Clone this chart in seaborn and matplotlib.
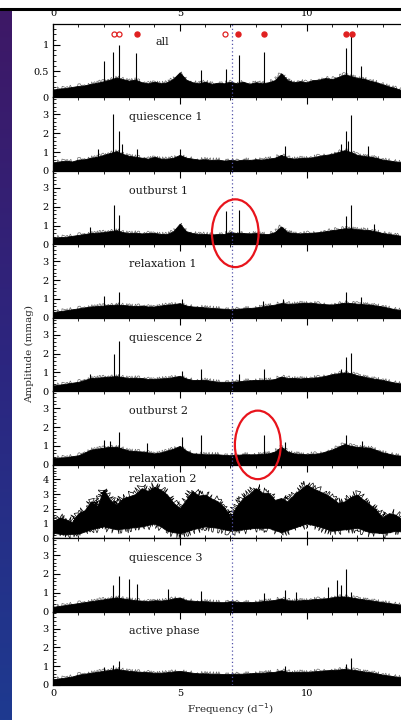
import numpy as np
import pandas as pd
import matplotlib
matplotlib.use("Agg")
import matplotlib.pyplot as plt
import seaborn as sns
from matplotlib.patches import Ellipse
from matplotlib.colors import LinearSegmentedColormap
from matplotlib.ticker import MultipleLocator

# ---------------- data ----------------
freq_grid = np.arange(0, 14.001, 0.25)

panel_names = ["all", "quiescence 1", "outburst 1", "relaxation 1", "quiescence 2",
               "outburst 2", "relaxation 2", "quiescence 3", "active phase"]
panel_ymax = [1.4, 3.9, 3.9, 3.9, 3.9, 3.9, 5.0, 3.9, 3.9]

env_all = [0.15,0.17,0.18,0.2,0.22,0.23,0.26,0.28,0.31,0.34,0.38,0.35,0.32,0.34,0.29,0.27,
           0.3,0.27,0.29,0.36,0.48,0.34,0.29,0.27,0.3,0.26,0.28,0.27,0.3,0.27,0.3,0.26,
           0.29,0.27,0.29,0.33,0.46,0.33,0.29,0.31,0.29,0.33,0.34,0.37,0.35,0.39,0.44,0.41,
           0.37,0.36,0.32,0.29,0.25,0.21,0.18,0.14,0.12]
env_q1 = [0.45,0.5,0.55,0.5,0.6,0.62,0.7,0.75,0.85,0.95,1.05,0.9,0.8,0.75,0.7,0.65,
          0.75,0.65,0.65,0.7,0.85,0.7,0.65,0.6,0.62,0.58,0.6,0.55,0.58,0.55,0.6,0.58,
          0.62,0.6,0.65,0.7,0.85,0.7,0.65,0.68,0.7,0.72,0.8,0.85,0.9,1.0,1.1,1.0,
          0.85,0.8,0.75,0.7,0.6,0.55,0.5,0.45,0.42]
env_o1 = [0.35,0.38,0.4,0.45,0.5,0.55,0.6,0.62,0.65,0.7,0.75,0.65,0.6,0.62,0.58,0.6,
          0.6,0.55,0.55,0.7,1.1,0.7,0.6,0.55,0.55,0.52,0.55,0.55,0.65,0.6,0.6,0.58,
          0.6,0.55,0.55,0.65,0.95,0.65,0.6,0.58,0.6,0.62,0.65,0.7,0.75,0.8,0.85,0.85,
          0.8,0.78,0.75,0.68,0.6,0.55,0.5,0.45,0.4]
env_r1 = [0.3,0.35,0.4,0.45,0.5,0.55,0.6,0.62,0.65,0.68,0.7,0.68,0.65,0.62,0.65,0.6,
          0.6,0.65,0.7,0.72,0.78,0.65,0.6,0.58,0.55,0.52,0.5,0.48,0.45,0.48,0.5,0.52,
          0.55,0.6,0.65,0.7,0.78,0.75,0.75,0.78,0.8,0.78,0.75,0.72,0.7,0.75,0.8,0.78,
          0.75,0.72,0.7,0.65,0.6,0.52,0.45,0.4,0.35]
env_q2 = [0.3,0.35,0.4,0.45,0.5,0.6,0.7,0.72,0.75,0.78,0.8,0.75,0.7,0.72,0.7,0.65,
          0.65,0.68,0.7,0.75,0.82,0.68,0.6,0.6,0.6,0.55,0.5,0.5,0.5,0.52,0.55,0.58,
          0.6,0.6,0.6,0.65,0.78,0.7,0.7,0.68,0.7,0.72,0.75,0.82,0.9,0.95,1.0,0.95,
          0.85,0.78,0.7,0.65,0.6,0.52,0.45,0.4,0.35]
env_o2 = [0.35,0.38,0.4,0.45,0.5,0.65,0.8,0.85,0.9,0.95,0.95,0.85,0.75,0.72,0.7,0.65,
          0.6,0.65,0.75,0.85,1.0,0.75,0.6,0.58,0.55,0.55,0.55,0.52,0.5,0.52,0.55,0.55,
          0.55,0.58,0.6,0.7,0.95,0.7,0.6,0.58,0.55,0.58,0.6,0.7,0.8,0.95,1.1,1.0,
          0.95,0.92,0.9,0.78,0.65,0.58,0.5,0.48,0.45]
r2_upper = [1.15,1.4,1.28,1.1,1.7,1.9,2.5,2.2,3.3,2.6,2.28,2.7,2.85,3.0,3.4,3.2,
            3.5,3.3,2.96,2.4,2.05,2.6,3.2,2.9,2.96,2.7,2.5,2.1,1.4,2.2,2.73,3.0,
            3.4,3.1,3.07,2.6,2.73,2.5,2.96,3.3,3.64,3.4,3.2,3.0,2.73,2.4,2.5,2.8,
            2.96,2.6,2.28,1.9,1.4,1.7,1.6,1.3,1.3]
r2_lower = [0.36,0.3,0.25,0.3,0.3,0.45,0.6,0.7,0.8,0.7,0.6,0.65,0.7,0.75,0.8,0.9,
            1.0,0.8,0.5,0.4,0.35,0.45,0.6,0.7,0.8,0.75,0.7,0.6,0.5,0.55,0.6,0.65,
            0.7,0.7,0.7,0.55,0.4,0.55,0.7,0.85,1.0,0.9,0.8,0.65,0.5,0.55,0.6,0.65,
            0.7,0.55,0.4,0.38,0.35,0.4,0.5,0.45,0.4]
env_q3 = [0.25,0.3,0.35,0.4,0.45,0.5,0.55,0.6,0.65,0.7,0.75,0.7,0.65,0.6,0.58,0.55,
          0.6,0.58,0.62,0.7,0.75,0.6,0.58,0.55,0.55,0.52,0.5,0.5,0.55,0.52,0.5,0.5,
          0.52,0.55,0.58,0.62,0.7,0.6,0.58,0.6,0.62,0.65,0.68,0.7,0.75,0.8,0.8,0.75,
          0.7,0.65,0.6,0.55,0.5,0.45,0.4,0.35,0.3]
env_ap = [0.3,0.35,0.4,0.45,0.55,0.6,0.65,0.7,0.75,0.8,0.85,0.8,0.75,0.72,0.7,0.68,
          0.65,0.65,0.68,0.72,0.75,0.7,0.65,0.62,0.62,0.6,0.6,0.58,0.58,0.6,0.6,0.62,
          0.65,0.65,0.68,0.7,0.78,0.7,0.68,0.7,0.7,0.72,0.75,0.78,0.8,0.82,0.85,0.82,
          0.78,0.72,0.68,0.62,0.55,0.5,0.45,0.4,0.35]

spk_all_f = [2.01, 2.38, 2.6, 3.29, 5.85, 6.81, 7.32, 8.32, 11.55, 11.77, 12.15]
spk_all_a = [0.70, 0.87, 1.0, 0.84, 0.52, 0.55, 0.81, 0.87, 0.94, 1.19, 0.6]
spk_q1_f = [1.78, 2.38, 2.6, 2.74, 3.3, 5.0, 9.15, 11.36, 11.56, 11.64, 11.77, 12.44]
spk_q1_a = [1.16, 3.03, 2.14, 1.43, 1.16, 1.16, 1.34, 1.43, 2.14, 1.6, 2.99, 1.3]
spk_o1_f = [1.46, 2.39, 2.6, 6.81, 7.32, 11.55, 11.77, 12.68]
spk_o1_a = [0.94, 2.09, 1.55, 1.78, 1.82, 1.5, 2.09, 1.1]
spk_r1_f = [2.0, 2.6, 5.07, 8.28, 9.07, 11.56, 12.15]
spk_r1_a = [1.18, 1.36, 1.0, 0.91, 1.0, 1.36, 1.12]
spk_q2_f = [1.46, 2.39, 2.6, 5.07, 5.85, 7.32, 8.32, 11.37, 11.55, 11.77]
spk_q2_a = [0.93, 1.96, 2.67, 1.05, 1.2, 0.93, 1.2, 1.16, 1.82, 2.05]
spk_o2_f = [2.0, 2.24, 2.6, 3.69, 5.07, 5.85, 8.32, 9.15, 11.55, 12.2]
spk_o2_a = [1.32, 1.28, 1.73, 1.14, 1.45, 1.55, 1.58, 1.2, 1.55, 1.28]
spk_q3_f = [2.38, 2.6, 3.0, 3.32, 4.54, 5.85, 8.32, 9.15, 9.6, 10.85, 11.2, 11.37, 11.55, 11.77]
spk_q3_a = [1.4, 1.87, 1.75, 1.45, 1.22, 1.1, 0.96, 1.17, 1.05, 1.3, 1.65, 1.39, 2.28, 1.05]
spk_ap_f = [2.0, 2.38, 2.6, 9.15, 11.56, 11.77]
spk_ap_a = [0.98, 1.07, 1.25, 1.02, 1.12, 1.43]

marker_open_f = [2.4, 2.59, 6.8]
marker_fill_f = [3.31, 7.3, 8.31, 11.54, 11.78]
marker_amp = 1.21

dotted_freq = 7.05
# ellipses: (panel index, centre freq, centre amp, width freq, height amp)
ellipse_specs = [(2, 7.19, 0.59, 1.84, 3.6), (5, 8.08, 1.05, 1.81, 3.64)]

envs = [env_all, env_q1, env_o1, env_r1, env_q2, env_o2, None, env_q3, env_ap]
spikes = [(spk_all_f, spk_all_a), (spk_q1_f, spk_q1_a), (spk_o1_f, spk_o1_a),
          (spk_r1_f, spk_r1_a), (spk_q2_f, spk_q2_a), (spk_o2_f, spk_o2_a),
          ([], []), (spk_q3_f, spk_q3_a), (spk_ap_f, spk_ap_a)]

# ---------------- figure ----------------
sns.set_theme(style="ticks")
plt.rcParams["font.family"] = ["DejaVu Serif", "DejaVu Sans"]
plt.rcParams.update({
    "xtick.direction": "in", "ytick.direction": "in",
    "xtick.major.size": 5, "ytick.major.size": 5,
    "xtick.minor.size": 2.5, "ytick.minor.size": 2.5,
    "xtick.major.width": 0.8, "ytick.major.width": 0.8,
    "xtick.minor.width": 0.6, "ytick.minor.width": 0.6,
    "axes.linewidth": 0.9, "axes.edgecolor": "black",
    "xtick.color": "black", "ytick.color": "black",
})

fig = plt.figure(figsize=(4.01, 7.20), dpi=100)
fig.patch.set_facecolor("white")

# left gradient strip
strip = fig.add_axes([0, 0, 12 / 401, 1 - 10 / 720])
cmap = LinearSegmentedColormap.from_list("strip", ["#3e1866", "#2c2680", "#1e3a90"])
strip.imshow(np.linspace(0, 1, 256).reshape(-1, 1), aspect="auto", cmap=cmap)
strip.set_axis_off()

# top black rule
fig.add_artist(plt.Line2D([0, 1], [1 - 8.5 / 720, 1 - 8.5 / 720], color="black", lw=2.2,
                          transform=fig.transFigure))

left = 53 / 401
width = 14 * 25.35 / 401
top = 1 - 24 / 720
bottom = 1 - 685 / 720
n = len(panel_names)
h = (top - bottom) / n

axes = []
for i in range(n):
    ax = fig.add_axes([left, top - (i + 1) * h, width, h])
    axes.append(ax)
    ax.set_xlim(0, 14)
    ax.set_ylim(0, panel_ymax[i])
    ax.set_facecolor("white")

    if envs[i] is not None:
        env = envs[i]
        poly = ax.fill_between(freq_grid, 0, env, color="black", lw=0.6)
        poly.set_sketch_params(scale=3.2, length=0.5, randomness=2)
        sns.lineplot(x=freq_grid, y=env, ax=ax, color="black", lw=0.5, alpha=0.6)
        ax.lines[-1].set_sketch_params(scale=2.0, length=0.5, randomness=2)
    else:
        poly = ax.fill_between(freq_grid, r2_lower, r2_upper, color="black", lw=0.6)
        poly.set_sketch_params(scale=7, length=0.4, randomness=2)
        sns.lineplot(x=freq_grid, y=r2_upper, ax=ax, color="black", lw=0.5)
        ax.lines[-1].set_sketch_params(scale=5, length=0.4, randomness=2)
        sns.lineplot(x=freq_grid, y=r2_lower, ax=ax, color="black", lw=0.5)
        ax.lines[-1].set_sketch_params(scale=5, length=0.4, randomness=2)

    sf, sa = spikes[i]
    if len(sf):
        ax.vlines(sf, 0, sa, color="black", lw=0.8)

    ax.axvline(dotted_freq, color="#5555aa", lw=0.9, ls=(0, (1, 2)), zorder=5)

    ax.xaxis.set_major_locator(MultipleLocator(5))
    ax.xaxis.set_minor_locator(MultipleLocator(1))
    ax.tick_params(axis="x", which="both", top=True, bottom=True, labelbottom=False,
                   labeltop=False, labelsize=7)
    ax.tick_params(axis="y", which="both", left=True, right=False, labelsize=7, pad=3)
    if i == 0:
        ax.yaxis.set_minor_locator(MultipleLocator(0.1))
        ax.set_yticks([0, 0.5, 1])
        ax.set_yticklabels(["0", "0.5", "1"])
    else:
        ax.yaxis.set_minor_locator(MultipleLocator(0.2))
        ticks = [0, 1, 2, 3, 4] if panel_ymax[i] >= 5 else [0, 1, 2, 3]
        ax.set_yticks(ticks)
        ax.set_yticklabels([str(t) for t in ticks])
    ax.set_ylabel("")
    ax.set_xlabel("")
    for s in ["top", "bottom", "left", "right"]:
        ax.spines[s].set_visible(True)

    if i == 0:
        lx, ly = 0.29, 0.76
    elif i == 6:
        lx, ly = 0.215, 0.81
    else:
        lx, ly = 0.215, 0.73
    ax.text(lx, ly, panel_names[i], transform=ax.transAxes, fontsize=8,
            ha="left", va="center", color="#1a1a1a", zorder=7)

# markers in first panel
axes[0].plot(marker_open_f, [marker_amp] * len(marker_open_f), ls="none", marker="o",
             ms=3.6, mfc="white", mec="#e02020", mew=0.9, zorder=6)
axes[0].plot(marker_fill_f, [marker_amp] * len(marker_fill_f), ls="none", marker="o",
             ms=3.6, mfc="#e02020", mec="#e02020", zorder=6)

# top and bottom labels
axes[0].tick_params(axis="x", which="both", labeltop=True, pad=4)
axes[-1].tick_params(axis="x", which="both", labelbottom=True, pad=3)
axes[-1].set_xlabel("Frequency (d$^{-1}$)", fontsize=7.5, labelpad=2)

fig.text(30 / 401, (top + bottom) / 2, "Amplitude (mmag)", rotation=90,
         ha="center", va="center", fontsize=7.5)

# red ellipses, drawn above all panels
for (pi, cf, ca, wf, ha) in ellipse_specs:
    e = Ellipse((cf, ca), wf, ha, fill=False, edgecolor="#e8141c", lw=1.6,
                transform=axes[pi].transData, zorder=10)
    fig.add_artist(e)

fig.savefig("out.png", dpi=100)
